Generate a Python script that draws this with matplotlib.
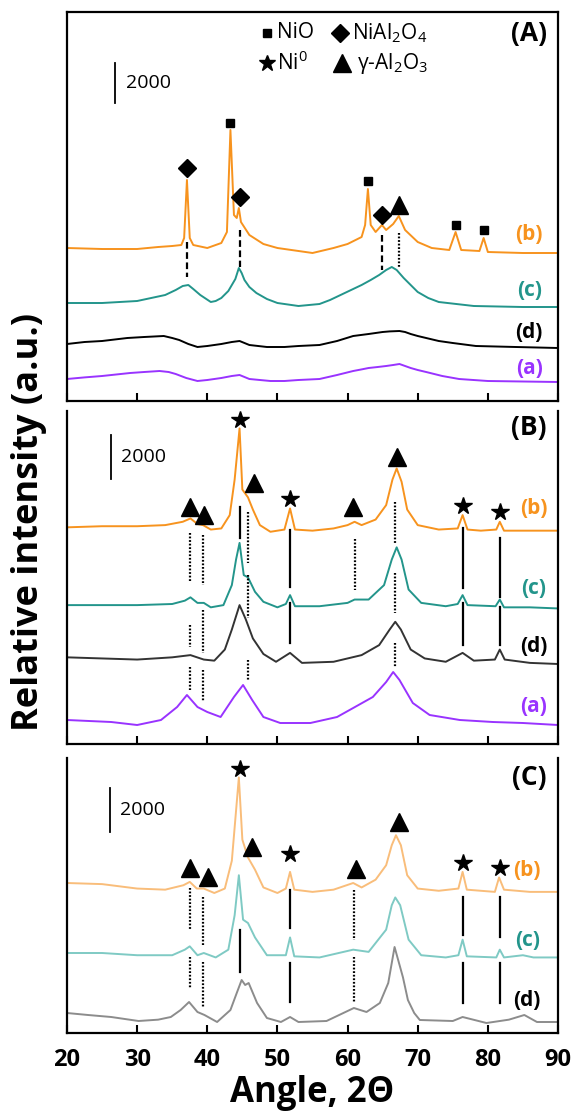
import matplotlib.pyplot as plt

plt.rcParams['font.family'] = ['Open Sans', 'DejaVu Sans']
plt.rcParams['mathtext.fontset'] = 'custom'
plt.rcParams['mathtext.rm'] = 'Open Sans'
plt.rcParams['mathtext.it'] = 'Open Sans:italic'
plt.rcParams['mathtext.bf'] = 'Open Sans:bold'

# ---- panel A (calcined) : angle (2theta) and intensity (counts, stacked) ----
A_b_ang = [20, 25, 30, 33, 35, 36.3, 36.7, 37.1, 37.5, 38, 40, 42, 42.8, 43.3, 43.8, 44.2, 44.5, 44.8,
           46, 48, 50, 55, 58, 60, 62, 62.5, 62.9, 63.3, 64, 64.9, 65.5, 66.5, 67.3, 68.2, 70, 72,
           74.5, 75.4, 76.2, 78.8, 79.4, 80, 85, 90]
A_b_int = [7650, 7600, 7600, 7700, 7750, 7800, 8150, 11050, 8150, 7800, 7650, 7900, 8450, 13550, 9300,
           9150, 9650, 8950, 8300, 7850, 7650, 7400, 7650, 7850, 8200, 8800, 10600, 8800, 8450, 8800,
           8550, 8850, 9250, 8550, 7950, 7650, 7550, 8450, 7550, 7500, 8150, 7450, 7400, 7400]
A_c_ang = [20, 25, 30, 32, 34, 35.5, 36.5, 37.3, 38, 39, 40.5, 41.2, 42, 43, 43.5, 44, 44.5, 44.9,
           45.3, 46, 47, 48.5, 50, 53, 56, 57.5, 59, 60.5, 62, 63.3, 64.5, 65.5, 66.3, 67, 68, 69,
           70, 71.5, 73, 78, 85, 90]
A_c_int = [4900, 4900, 5000, 5150, 5300, 5550, 5750, 5800, 5600, 5300, 4950, 5000, 5150, 5500, 5800,
           6100, 6650, 6400, 6050, 5700, 5400, 5100, 4900, 4750, 4850, 5050, 5300, 5550, 5800, 6050,
           6300, 6550, 6700, 6550, 6150, 5800, 5450, 5150, 4950, 4750, 4700, 4700]
A_d_ang = [20, 22.5, 25, 28.6, 31, 33.8, 35, 36, 37.3, 38.6, 40, 42, 43.5, 44.6, 45.3, 46, 48.5, 51,
           53, 56, 58.5, 60.8, 63, 65, 66, 67.4, 68.2, 69, 70, 71.2, 73, 75, 78.3, 84, 90]
A_d_int = [2850, 2950, 3000, 3150, 3200, 3250, 3150, 3050, 2850, 2700, 2750, 2850, 2950, 3000, 2900,
           2800, 2700, 2700, 2750, 2800, 3000, 3250, 3350, 3450, 3480, 3500, 3450, 3350, 3250, 3150,
           3000, 2900, 2750, 2700, 2650]
A_a_ang = [20, 22.5, 25, 29, 31, 33.2, 34.5, 35.5, 37, 38.6, 40, 42, 43.5, 44.6, 45.3, 46, 49, 51, 53,
           56, 58.5, 60.8, 62, 63, 64.3, 65.5, 66.5, 67.4, 68.2, 69, 70, 71.2, 73.5, 75.9, 80, 90]
A_a_int = [1100, 1180, 1250, 1400, 1450, 1500, 1450, 1350, 1150, 1000, 1050, 1150, 1250, 1300, 1200,
           1100, 1000, 1000, 1050, 1100, 1300, 1500, 1580, 1650, 1700, 1750, 1800, 1850, 1750, 1650,
           1550, 1450, 1250, 1100, 1000, 950]

# ---- panel B (reduced) ----
B_b_ang = [20, 25, 30, 34, 36.5, 37.6, 38.6, 39.4, 40.5, 42, 43.2, 43.9, 44.6, 45.0, 45.8, 46.5, 47.5,
           49, 51, 51.8, 52.5, 55, 58, 60, 61, 62, 64, 65.5, 66.4, 67.0, 67.7, 68.5, 70, 73, 75.7,
           76.4, 77.1, 79, 81.2, 81.7, 82.3, 86, 90]
B_b_int = [9750, 9800, 9800, 9850, 10000, 10150, 9900, 9850, 9650, 9700, 10300, 11900, 14200, 11450,
           11100, 10550, 9850, 9550, 9650, 10600, 9650, 9600, 9700, 9850, 10000, 9850, 10100, 10750,
           11900, 12400, 11800, 10550, 9850, 9650, 9700, 10300, 9650, 9600, 9650, 10000, 9600, 9600,
           9600]
B_c_ang = [20, 25, 30, 35, 36.8, 37.6, 38.6, 39.5, 40.5, 42.3, 43.5, 44.1, 44.6, 45.2, 45.8, 46.8, 48,
           50, 51.2, 51.8, 52.5, 56, 60, 61, 63, 65.2, 66.3, 67, 67.7, 68.7, 70.5, 74, 75.7, 76.4,
           77.1, 81.1, 81.7, 82.3, 86, 90]
B_c_int = [6250, 6250, 6250, 6300, 6450, 6600, 6350, 6350, 6150, 6250, 7150, 8300, 9050, 7600, 7500,
           6850, 6400, 6150, 6300, 6700, 6200, 6200, 6350, 6500, 6500, 7150, 8300, 8850, 8300, 6950,
           6350, 6200, 6300, 6700, 6250, 6200, 6500, 6150, 6150, 6100]
B_d_ang = [20, 25, 30, 35, 37.6, 39.5, 41, 42.5, 43.5, 44.6, 45.5, 46.5, 48, 49.8, 51.8, 53.5, 58, 62,
           64.5, 66, 66.8, 67.6, 69, 71, 74, 76.4, 78, 81, 81.7, 82.4, 86, 90]
B_d_int = [3900, 3850, 3800, 3900, 4000, 3800, 3750, 4250, 5150, 6250, 5600, 4750, 4050, 3700, 4100,
           3650, 3700, 4000, 4450, 5150, 5500, 5150, 4250, 3850, 3700, 4100, 3750, 3800, 4250, 3800,
           3650, 3600]
B_a_ang = [20, 26.3, 30, 33.4, 35.7, 37.1, 38.6, 40, 41.9, 43.8, 45.1, 46.4, 48, 50.4, 54.7, 58.5,
           60.8, 63.6, 65.5, 66.5, 67.4, 69.3, 71.7, 76, 80.7, 85, 90]
B_a_int = [1080, 990, 855, 1080, 1665, 2205, 1665, 1440, 1215, 2115, 2655, 1980, 1215, 945, 945, 1215,
           1620, 2115, 2790, 3240, 2880, 1845, 1305, 1080, 990, 945, 855]

# ---- panel C (spent) ----
C_b_ang = [20, 25, 30, 34, 36.6, 37.5, 38.5, 39.5, 41, 42.5, 43.5, 44.1, 44.5, 45.0, 45.8, 46.8, 48,
           50, 51.2, 51.8, 52.4, 55, 58, 60.8, 62, 64, 65.5, 66.3, 66.9, 67.6, 68.5, 70, 73, 75.8,
           76.4, 77.0, 81.0, 81.6, 82.3, 86, 90]
C_b_int = [6750, 6700, 6500, 6450, 6650, 6800, 6500, 6500, 6300, 6500, 7750, 10000, 11500, 8700, 7900,
           7350, 6550, 6300, 6500, 7250, 6450, 6350, 6450, 6750, 6550, 6900, 7550, 8450, 8900, 8450,
           7100, 6500, 6400, 6500, 7250, 6450, 6350, 7000, 6450, 6350, 6350]
C_c_ang = [20, 25, 30, 35, 36.8, 37.5, 38.6, 39.5, 41.2, 43, 43.9, 44.5, 45.1, 45.8, 46.8, 48.5, 51.2,
           51.8, 52.4, 56, 60.8, 63, 65.5, 66.3, 66.8, 67.5, 68.7, 70.5, 74, 75.8, 76.4, 77.0, 81.2,
           81.7, 82.3, 85, 86.5, 90]
C_c_int = [3600, 3600, 3500, 3500, 3750, 3900, 3500, 3600, 3400, 3750, 5300, 7100, 5100, 4950, 4300,
           3500, 3500, 4300, 3450, 3400, 3750, 3650, 4650, 5750, 6100, 5750, 4200, 3500, 3400, 3500,
           4200, 3450, 3400, 3750, 3400, 3500, 3400, 3400]
C_d_ang = [20, 23, 26.3, 30.2, 33, 34.8, 36.2, 37.4, 38.6, 39.6, 41.4, 43.3, 44.2, 44.9, 45.4, 45.9,
           47.1, 48.5, 50.5, 51.8, 53, 57, 59.4, 60.9, 62.7, 64.6, 65.8, 66.7, 67.9, 68.6, 69.5, 70.3,
           75, 76.4, 79.8, 83, 85.2, 87, 90]
C_d_int = [900, 810, 720, 540, 600, 720, 1035, 1395, 945, 810, 495, 1035, 1800, 2385, 2160, 2250, 1350,
           675, 495, 720, 495, 540, 900, 1125, 945, 1350, 2250, 3870, 2500, 1485, 900, 585, 540, 720,
           450, 600, 810, 495, 495]

# phase markers (angle, height)
A_sq_x, A_sq_y = [43.3, 62.9, 75.4, 79.4], [13900, 11000, 8800, 8550]
A_dia_x, A_dia_y = [37.1, 44.6, 64.9], [11650, 10200, 9300]
A_tri_x, A_tri_y = [67.3], [9800]
B_star_x, B_star_y = [44.6, 51.8, 76.4, 81.7], [14580, 11025, 10710, 10440]
B_tri_x, B_tri_y = [37.6, 39.5, 46.6, 60.8, 67.1], [10665, 10305, 11745, 10665, 12915]
C_star_x, C_star_y = [44.6, 51.8, 76.4, 81.7], [11880, 8055, 7650, 7425]
C_tri_x, C_tri_y = [37.5, 40.1, 46.4, 61.2, 67.3], [7425, 7020, 8370, 7380, 9495]

# reference line segments (angle, y from, y to, style)
A_refs = [(37.1, 7950, 6200, 'dash'), (44.6, 8550, 6700, 'dash'), (64.9, 8300, 6550, 'dash'),
          (67.3, 8400, 6700, 'dot')]
B_refs = [(37.6, 9495, 7290, 'dot'), (37.6, 5355, 4365, 'dot'), (37.6, 3465, 2430, 'dot'),
          (39.4, 9405, 7155, 'dot'), (39.4, 6030, 4095, 'dot'), (39.4, 3330, 1890, 'dot'),
          (44.6, 10665, 9270, 'solid'),
          (45.8, 10440, 8145, 'dot'), (45.8, 7605, 5670, 'dot'), (45.8, 3780, 2880, 'dot'),
          (51.8, 9630, 7065, 'solid'), (51.8, 6345, 4545, 'solid'),
          (61.1, 9225, 6930, 'dot'),
          (66.7, 10890, 9045, 'dot'), (66.7, 7695, 5895, 'dot'), (66.7, 4545, 3465, 'dot'),
          (76.4, 9720, 7020, 'solid'), (76.4, 6345, 4455, 'solid'),
          (81.7, 9270, 6615, 'solid'), (81.7, 6165, 4455, 'solid')]
C_refs = [(37.6, 6525, 4635, 'dot'), (37.6, 3420, 2025, 'dot'),
          (39.4, 6120, 3960, 'dot'), (39.4, 3195, 1170, 'dot'),
          (44.6, 4635, 2745, 'solid'),
          (51.8, 6435, 4725, 'solid'), (51.8, 3150, 1395, 'solid'),
          (60.9, 6435, 4185, 'dot'), (60.9, 3420, 1350, 'dot'),
          (76.4, 6120, 4410, 'solid'), (76.4, 3150, 1350, 'solid'),
          (81.7, 6120, 4320, 'solid'), (81.7, 3150, 1350, 'solid')]

ORANGE, TEAL, PURPLE = '#F7931E', '#23958B', '#9933FF'
LORANGE, LTEAL, GREY = '#F9BD7A', '#7FCAC4', '#8C8C8C'
styles = {'dash': (0, (3, 1.6)), 'dot': (0, (0.8, 0.8)), 'solid': '-'}

fig = plt.figure(figsize=(5.76, 11.14), dpi=100)
W, H = 576, 1114
axA = fig.add_axes([67 / W, 1 - 401 / H, 491 / W, 389 / H])
axB = fig.add_axes([67 / W, 1 - 744 / H, 491 / W, 333 / H])
axC = fig.add_axes([67 / W, 1 - 1033 / H, 491 / W, 275 / H])
axA.set_ylim(0, 389 * 50)
axB.set_ylim(0, 333 * 45)
axC.set_ylim(0, 275 * 45)

for ax in (axA, axB, axC):
    ax.set_xlim(20, 90)
    ax.set_yticks([])
    ax.set_xticks(range(20, 91, 10))
    ax.tick_params(axis='x', direction='in', length=6, width=1.5, labelsize=17, pad=11)
    for s in ax.spines.values():
        s.set_linewidth(1.6)
for ax in (axA, axB):
    ax.tick_params(labelbottom=False)
for ax in (axB, axC):
    ax.spines['top'].set_visible(False)
for lab in axC.get_xticklabels():
    lab.set_fontweight('bold')

lw = 1.4
axA.plot(A_b_ang, A_b_int, color=ORANGE, lw=lw)
axA.plot(A_c_ang, A_c_int, color=TEAL, lw=lw)
axA.plot(A_d_ang, A_d_int, color='black', lw=lw)
axA.plot(A_a_ang, A_a_int, color=PURPLE, lw=lw)
axB.plot(B_b_ang, B_b_int, color=ORANGE, lw=lw)
axB.plot(B_c_ang, B_c_int, color=TEAL, lw=lw)
axB.plot(B_d_ang, B_d_int, color='#333333', lw=lw)
axB.plot(B_a_ang, B_a_int, color=PURPLE, lw=lw)
axC.plot(C_b_ang, C_b_int, color=LORANGE, lw=lw)
axC.plot(C_c_ang, C_c_int, color=LTEAL, lw=lw)
axC.plot(C_d_ang, C_d_int, color=GREY, lw=lw)

# markers
axA.plot(A_sq_x, A_sq_y, 's', color='black', ms=5.5)
axA.plot(A_dia_x, A_dia_y, 'D', color='black', ms=9)
axA.plot(A_tri_x, A_tri_y, '^', color='black', ms=13)
axB.plot(B_star_x, B_star_y, '*', color='black', ms=13)
axB.plot(B_tri_x, B_tri_y, '^', color='black', ms=13)
axC.plot(C_star_x, C_star_y, '*', color='black', ms=13)
axC.plot(C_tri_x, C_tri_y, '^', color='black', ms=13)

for ax, refs in ((axA, A_refs), (axB, B_refs), (axC, C_refs)):
    for x, y0, y1, st in refs:
        ax.plot([x, x], [y0, y1], color='black', lw=1.6, ls=styles[st])

# curve labels
lab_kw = dict(fontsize=15, fontweight='bold', ha='center', va='center')
for txt, y, c in (('(b)', 8350, ORANGE), ('(c)', 5550, TEAL), ('(d)', 3450, 'black'), ('(a)', 1650, PURPLE)):
    axA.text(85.9, y, txt, color=c, **lab_kw)
for txt, y, c in (('(b)', 10620, ORANGE), ('(c)', 7020, TEAL), ('(d)', 4365, 'black'), ('(a)', 1665, PURPLE)):
    axB.text(86.5, y, txt, color=c, **lab_kw)
for txt, y, c in (('(b)', 7335, ORANGE), ('(c)', 4185, TEAL), ('(d)', 1485, 'black')):
    axC.text(85.6, y, txt, color=c, **lab_kw)

# panel letters
for ax, txt, y in ((axA, '(A)', 18400), (axB, '(B)', 14265), (axC, '(C)', 11520)):
    ax.text(85.9, y, txt, fontsize=19, fontweight='bold', ha='center', va='center')

# scale bars
for ax, x, y0 in ((axA, 26.9, 14900), (axB, 26.25, 11925), (axC, 26.1, 9045)):
    ax.plot([x, x], [y0, y0 + 2000], color='black', lw=1.3)
    ax.text(x + 1.5, y0 + 1000, '2000', fontsize=14, ha='left', va='center')

# legend
axA.plot([48.5], [18400], 's', color='black', ms=6)
axA.text(50.0, 18400, 'NiO', fontsize=15, ha='left', va='center')
axA.plot([58.9], [18400], 'D', color='black', ms=9)
axA.text(60.6, 18400, 'NiAl$_2$O$_4$', fontsize=15, ha='left', va='center')
axA.plot([48.5], [16900], '*', color='black', ms=12)
axA.text(50.0, 16900, 'Ni$^0$', fontsize=15, ha='left', va='center')
axA.plot([59.2], [16900], '^', color='black', ms=13)
axA.text(61.3, 16900, 'γ-Al$_2$O$_3$', fontsize=15, ha='left', va='center')

axC.set_xlabel('Angle, 2Θ', fontsize=25, fontweight='bold', labelpad=2)
fig.text(29 / W, 1 - 522 / H, 'Relative intensity (a.u.)', rotation=90, fontsize=26,
         fontweight='bold', ha='center', va='center')

fig.savefig('out.png', dpi=100)
